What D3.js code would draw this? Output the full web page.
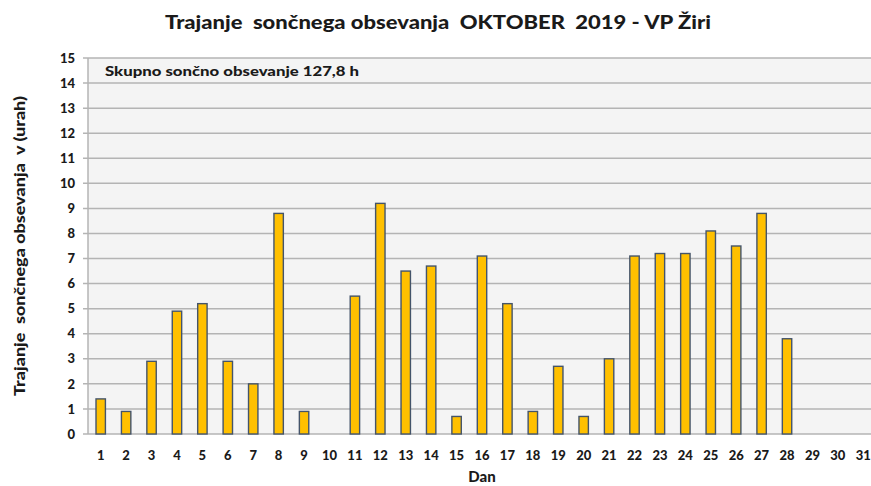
<!DOCTYPE html>
<html><head><meta charset="utf-8">
<script src="https://cdn.jsdelivr.net/npm/d3@7"></script>
<style>
html,body{margin:0;padding:0;background:#fff;overflow:hidden}
text{font-family:Lato,"Open Sans",sans-serif;font-weight:900;fill:#1a1a1a;white-space:pre}
</style></head><body>
<svg id="c" width="871" height="486"></svg>
<script>
const days = d3.range(1, 32).map(String);
const hours = [1.4,0.9,2.9,4.9,5.2,2.9,2.0,8.8,0.9,0,5.5,9.2,6.5,6.7,0.7,7.1,5.2,0.9,2.7,0.7,3.0,7.1,7.2,7.2,8.1,7.5,8.8,3.8,0,0,0];
const yTicks = d3.range(0, 16);
const title = "Trajanje  sončnega obsevanja  OKTOBER  2019 - VP Žiri";
const yTitle = "Trajanje  sončnega obsevanja  v (urah)";
const xTitle = "Dan";
const note = "Skupno sončno obsevanje 127,8 h";

const svg = d3.select("#c");
const L = 88, R = 876, T = 58, B = 434;
const x = d3.scaleBand().domain(days).range([L, R]).paddingInner(0.63).paddingOuter(0.315);
const y = d3.scaleLinear().domain([0, 15]).range([B, T]);

svg.append("rect").attr("x", L).attr("y", T).attr("width", R - L).attr("height", B - T).attr("fill", "#f4f4f4");

// grid
svg.append("g").selectAll("line").data(yTicks).join("line")
  .attr("x1", L - 5).attr("x2", R).attr("y1", d => y(d)).attr("y2", d => y(d))
  .attr("stroke", "#b4b4b4").attr("stroke-width", 1.5);
svg.append("line").attr("x1", L).attr("x2", L).attr("y1", T).attr("y2", B)
  .attr("stroke", "#b4b4b4").attr("stroke-width", 1.5);

// y labels
svg.append("g").selectAll("text").data(yTicks).join("text")
  .attr("x", 75).attr("y", d => y(d)).attr("dy", "0.36em")
  .attr("text-anchor", "end").attr("font-size", 13).text(d => d);

// x labels
svg.append("g").selectAll("text").data(days).join("text")
  .attr("x", d => x(d) + x.bandwidth() / 2).attr("y", 460)
  .attr("text-anchor", "middle").attr("font-size", 13).text(d => d);

// bars
svg.append("g").selectAll("rect").data(days.map((d, i) => ({d, v: hours[i]})).filter(o => o.v > 0)).join("rect")
  .attr("x", o => x(o.d)).attr("width", x.bandwidth())
  .attr("y", o => y(o.v)).attr("height", o => y(0) - y(o.v))
  .attr("fill", "#ffc000").attr("stroke", "#44546a").attr("stroke-width", 1.4);

// titles
svg.append("text").attr("x", 438).attr("y", 29).attr("text-anchor", "middle")
  .attr("font-size", 19).attr("textLength", 546).attr("lengthAdjust", "spacingAndGlyphs").text(title);
svg.append("text").attr("x", 482).attr("y", 482).attr("text-anchor", "middle")
  .attr("font-size", 15).text(xTitle);
svg.append("text").attr("transform", "translate(25,246) rotate(-90)").attr("text-anchor", "middle")
  .attr("font-size", 14.5).attr("textLength", 300).attr("lengthAdjust", "spacingAndGlyphs").text(yTitle);
svg.append("text").attr("x", 105).attr("y", 76).attr("font-size", 12.5)
  .attr("textLength", 254).attr("lengthAdjust", "spacingAndGlyphs").text(note);
</script></body></html>
